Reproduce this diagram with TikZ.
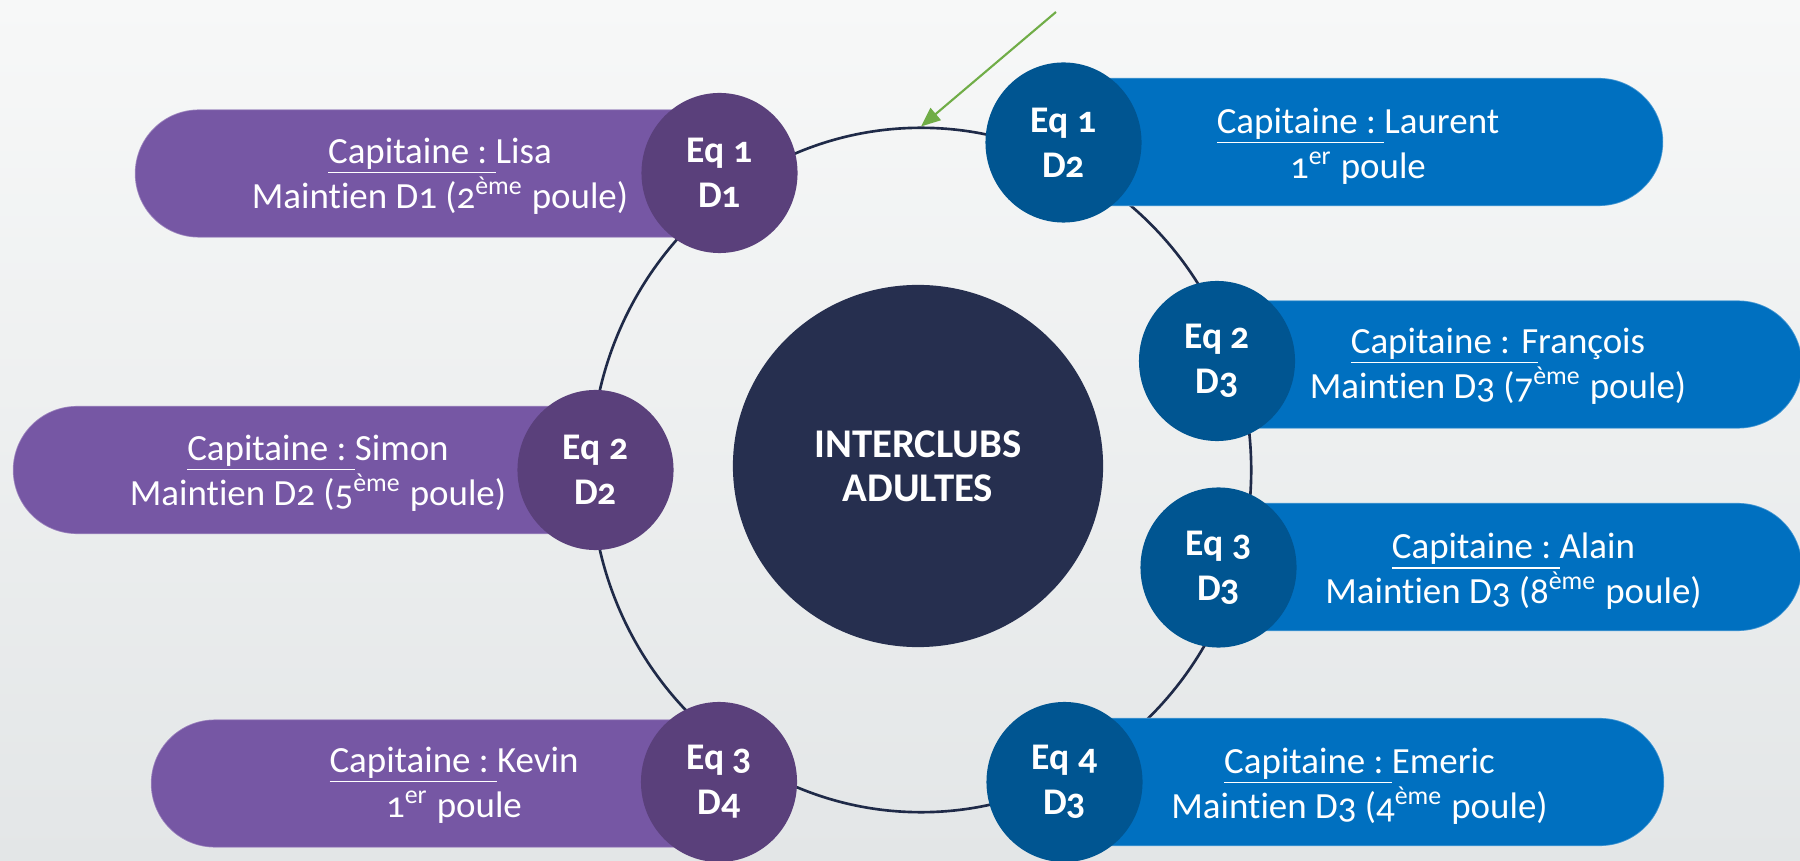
\documentclass[tikz,border=0pt]{standalone}
\usepackage{fontspec}
\setmainfont{Carlito}[Numbers=OldStyle, Ligatures=NoCommon]
\usetikzlibrary{shapes.geometric,arrows.meta}
\definecolor{bgtop}{HTML}{F7F8F8}
\definecolor{bgbot}{HTML}{E3E6E7}
\definecolor{purpill}{HTML}{7657A4}
\definecolor{purcirc}{HTML}{5A407B}
\definecolor{bluepill}{HTML}{0070C0}
\definecolor{bluecirc}{HTML}{005591}
\definecolor{hubnavy}{HTML}{262F4F}
\definecolor{ringcol}{HTML}{1F2A48}
\definecolor{arrowgreen}{HTML}{70AD47}
\newcommand{\myul}[1]{\setbox0\hbox{#1}\rlap{\rule[-2.9pt]{\wd0}{0.5pt}}\box0}
\newcommand{\captlbl}{\myul{Capitaine :\ }}
\newcommand{\maint}{Maint\kern0pt ien}
\begin{document}
\begin{tikzpicture}[x=0.01cm,y=-0.01cm,
  pill/.style={rounded corners=0.64cm, minimum height=1.28cm, inner sep=0pt,
    draw=white, draw opacity=0.3, line width=0.4pt},
  ppill/.style={pill, fill=purpill},
  bpill/.style={pill, fill=bluepill},
  team/.style={ellipse, minimum width=1.56cm, minimum height=1.6cm, inner sep=0pt,
    text=white, align=center, font=\bfseries\fontsize{10.7pt}{12.8pt}\selectfont},
  pteam/.style={team, fill=purcirc},
  bteam/.style={team, fill=bluecirc},
  info/.style={text=white, align=center, inner sep=0pt,
    font=\fontsize{10.5pt}{12.8pt}\selectfont},
  hubstyle/.style={ellipse, fill=hubnavy, minimum width=3.7cm, minimum height=3.62cm,
    inner sep=0pt, text=white, align=center,
    font=\bfseries\fontsize{11.6pt}{12.6pt}\selectfont},
  ringstyle/.style={ellipse, draw=ringcol, line width=0.75pt, minimum width=6.6cm,
    minimum height=6.84cm, inner sep=0pt},
  pointer/.style={draw=arrowgreen, line width=0.6pt,
    -{Triangle[length=5.5pt,width=4.5pt]}}
]
\useasboundingbox (0,0) rectangle (1800,861);
\fill[top color=bgtop, bottom color=bgbot] (0,0) rectangle (1800,861);

% ring
\node[ringstyle] (ring) at (921,470) {};
\coordinate (arrowstart) at (1056,12);
\draw[pointer] (arrowstart) -- (ring.north);

% pills
\node[ppill, minimum width=6.485cm] (pillA) at (459.25,173.5) {};
\node[ppill, minimum width=6.465cm] (pillB) at (336.25,470) {};
\node[ppill, minimum width=6.32cm] (pillC) at (467,783.5) {};
\node[bpill, minimum width=6.63cm] (pillD) at (1331.5,142) {};
\node[bpill, minimum width=6.49cm] (pillE) at (1477.5,364.5) {};
\node[bpill, minimum width=6.475cm] (pillF) at (1478.25,567) {};
\node[bpill, minimum width=6.635cm] (pillG) at (1332.25,782) {};

% team circles
\node[pteam] (teamA) at (719.5,173) {Eq 1\\D1};
\node[pteam] (teamB) at (595.5,470) {Eq 2\\D2};
\node[pteam] (teamC) at (719,782) {Eq 3\\D4};
\node[bteam] (teamD) at (1063.5,142.5) {Eq 1\\D2};
\node[bteam] (teamE) at (1217,361) {Eq 2\\D3};
\node[bteam] (teamF) at (1218.5,567.5) {Eq 3\\D3};
\node[bteam] (teamG) at (1064.5,782) {Eq 4\\D3};

% hub
\node[hubstyle] (hub) at (918,466) {INTERCLUBS\\ADULTES};

% info texts
\node[info] (infoA) at (440,176) {\captlbl Lisa\\\maint{} D1 (2\textsuperscript{ème} poule)};
\node[info] (infoB) at (318,473) {\captlbl Simon\\\maint{} D2 (5\textsuperscript{ème} poule)};
\node[info] (infoC) at (454,785) {\captlbl Kevin\\1\textsuperscript{er} poule};
\node[info] (infoD) at (1358,146) {\captlbl Laurent\\1\textsuperscript{er} poule};
\node[info] (infoE) at (1498,366) {\myul{Capitaine : F}rançois\\\maint{} D3 (7\textsuperscript{ème} poule)};
\node[info] (infoF) at (1513.5,571) {\captlbl Alain\\\maint{} D3 (8\textsuperscript{ème} poule)};
\node[info] (infoG) at (1359.5,786) {\captlbl Emeric\\\maint{} D3 (4\textsuperscript{ème} poule)};
\end{tikzpicture}
\end{document}
